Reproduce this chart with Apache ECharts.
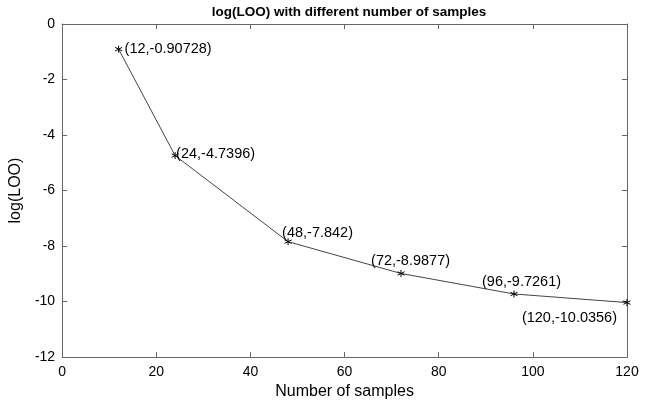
<!DOCTYPE html>
<html>
<head>
<meta charset="utf-8">
<script src="https://cdn.jsdelivr.net/npm/echarts@6/dist/echarts.min.js"></script>
<style>html,body{margin:0;padding:0;background:#fff}#c{width:651px;height:405px}</style>
</head>
<body>
<div id="c"></div>
<script>
const samples = [12, 24, 48, 72, 96, 120];
const logLOO = [-0.90728, -4.7396, -7.842, -8.9877, -9.7261, -10.0356];
const xTicks = [0, 20, 40, 60, 80, 100, 120];
const yTicks = [-12, -10, -8, -6, -4, -2, 0];

// label placement styles (pixel offsets from each point)
const labelOffsets = [[6, 0], [1, -2], [-6, -9], [-30, -12], [-32, -12], [-10, 15]];
const labelAligns = ['left', 'left', 'left', 'left', 'left', 'right'];

const chart = echarts.init(document.getElementById('c'), null, {renderer: 'canvas'});
const font = 'Liberation Sans, Arial, sans-serif';
const axisColor = '#666';
const star = 'path://M0,-5L0,5M-4.33,-2.5L4.33,2.5M-4.33,2.5L4.33,-2.5';

const data = samples.map((x, i) => ({
  value: [x, logLOO[i]],
  label: {
    show: true,
    position: 'inside',
    align: labelAligns[i],
    verticalAlign: 'middle',
    offset: labelOffsets[i],
    formatter: '(' + x + ',' + logLOO[i] + ')',
    color: '#000',
    fontSize: 14.5,
    fontFamily: font
  }
}));

const tick = {show: true, inside: true, length: 5, lineStyle: {color: axisColor, width: 1}};
const line = {show: true, onZero: false, lineStyle: {color: axisColor, width: 1}};

chart.setOption({
  animation: false,
  backgroundColor: '#fff',
  title: {
    text: 'log(LOO) with different number of samples',
    left: 344, top: 0, textAlign: 'center',
    textStyle: {fontSize: 13.5, fontWeight: 'bold', color: '#000', fontFamily: font}
  },
  grid: {left: 60, right: 24, top: 24, bottom: 47},
  xAxis: [{
    type: 'value', min: xTicks[0], max: xTicks[xTicks.length - 1], interval: xTicks[1] - xTicks[0],
    name: 'Number of samples', nameLocation: 'middle', nameGap: 25,
    nameTextStyle: {fontSize: 16, color: '#000', fontFamily: font},
    axisLine: line, axisTick: tick,
    axisLabel: {fontSize: 14, color: '#000', margin: 8, fontFamily: font},
    splitLine: {show: false}
  }, {
    type: 'value', position: 'top', min: xTicks[0], max: xTicks[xTicks.length - 1], interval: xTicks[1] - xTicks[0],
    axisLine: line, axisTick: tick,
    axisLabel: {show: false}, splitLine: {show: false}
  }],
  yAxis: [{
    type: 'value', min: yTicks[0], max: yTicks[yTicks.length - 1], interval: yTicks[1] - yTicks[0],
    name: 'log(LOO)', nameLocation: 'middle', nameGap: 30,
    nameTextStyle: {fontSize: 16, color: '#000', fontFamily: font},
    axisLine: line, axisTick: tick,
    axisLabel: {fontSize: 14, color: '#000', margin: 7, fontFamily: font},
    splitLine: {show: false}
  }, {
    type: 'value', position: 'right', min: yTicks[0], max: yTicks[yTicks.length - 1], interval: yTicks[1] - yTicks[0],
    axisLine: line, axisTick: tick,
    axisLabel: {show: false}, splitLine: {show: false}
  }],
  series: [{
    type: 'line',
    data: data,
    symbol: star,
    symbolSize: 7,
    showAllSymbol: true,
    lineStyle: {color: '#444', width: 1},
    itemStyle: {color: 'none', borderColor: '#000', borderWidth: 1},
    z: 3
  }]
});
</script>
</body>
</html>
